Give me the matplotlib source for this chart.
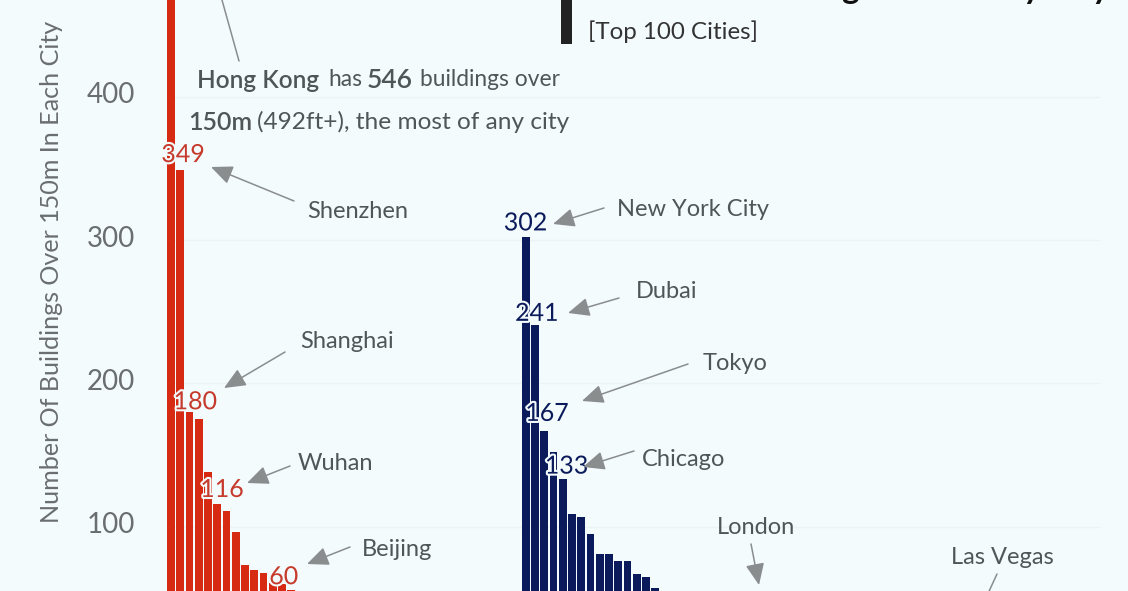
import numpy as np
import matplotlib
matplotlib.use('Agg')
import matplotlib.pyplot as plt
import matplotlib.patheffects as pe
from matplotlib.patches import Rectangle

plt.rcParams['font.family'] = ['Lato', 'DejaVu Sans']

# only the bars tall enough to show in this crop
china_counts = [546, 349, 180, 175, 138, 116, 111, 96, 73, 70, 68, 61, 60, 56]
other_counts = [302, 241, 167, 152, 133, 109, 107, 95, 81, 81, 76, 76, 67, 65, 57]
china_labelled = [1, 2, 5, 12]
other_labelled = [0, 1, 2, 4]
yticks = [100, 200, 300, 400]

RED = '#d62a12'
NAVY = '#0b1a5a'
BG = '#f3fbfd'
GREY = '#505557'
ARROW = '#8a8d8e'

W, H = 1128, 591
fig = plt.figure(figsize=(W/100, H/100), dpi=100, facecolor=BG)
ax = fig.add_axes([0, 0, 1, 1], facecolor=BG)


def fx(px):
    return px/W


def fy(py):
    return 1 - py/H


def put(px, py, s, **kw):
    kw.setdefault('color', GREY)
    kw.setdefault('fontsize', 17)
    kw.setdefault('ha', 'center')
    kw.setdefault('va', 'center')
    return fig.text(fx(px), fy(py), s, **kw)


def arrow(tail, head, style='-|>,head_length=0.55,head_width=0.24'):
    props = dict(arrowstyle=style, color=ARROW, lw=1.1, shrinkA=0, shrinkB=0, mutation_scale=24)
    ax.annotate('', xy=(fx(head[0]), fy(head[1])), xycoords='figure fraction',
                xytext=(fx(tail[0]), fy(tail[1])), textcoords='figure fraction',
                arrowprops=props)


pitch = 9.25
x_china = np.arange(len(china_counts))
x_other = np.arange(len(other_counts)) + 38.35

ax.set_xlim(-171/pitch, (W - 171)/pitch)
ax.set_ylim((670 - H)/1.433, 670/1.433)

ax.hlines(yticks, (167 - 171)/pitch, (1100 - 171)/pitch, color='#ebf3f5', lw=1, zorder=0)
ax.bar(x_china, china_counts, width=0.83, color=RED, zorder=2)
ax.bar(x_other, other_counts, width=0.83, color=NAVY, zorder=2)

# label nudges in pixels, right and up from the top of the bar
china_nudge = [(2.8, 15.3), (5.8, 10.3), (4.8, 14.3), (1.8, 7.3)]
other_nudge = [(-0.2, 14.3), (1.8, 11.3), (2.8, 17.3), (3.8, 13.3)]

for idx, nudge, col, xs, vals in [(china_labelled, china_nudge, '#c63a2b', x_china, china_counts),
                                  (other_labelled, other_nudge, NAVY, x_other, other_counts)]:
    for k, (dx, dy) in zip(idx, nudge):
        ax.annotate(str(vals[k]), (xs[k], vals[k]), xytext=(dx*0.72, dy*0.72), textcoords='offset points',
                    ha='center', va='center', fontsize=18, color=col, zorder=3,
                    path_effects=[pe.withStroke(linewidth=3, foreground=BG)])

ax.set_xticks([])
ax.set_yticks([])
for s in ax.spines.values():
    s.set_visible(False)

for t in yticks:
    ax.text((135 - 171)/pitch, t + 1, str(t), ha='right', va='center', fontsize=20, color='#6b6e70')

put(52, 272, 'Number Of Buildings Over 150m In Each City', rotation=90, fontsize=18.1, color='#6b6e70')

# title runs off the top of the crop, only the descenders show
put(1110, -1, 'Number Of Tall Buildings In Country City', ha='right', va='baseline',
    fontsize=24, fontweight='bold', color='#111111')
fig.add_artist(Rectangle((fx(561), fy(44)), 11/W, 44/H, transform=fig.transFigure,
                         facecolor='#222222', edgecolor='none'))
put(588, 32, '[Top 100 Cities]', ha='left', fontsize=17.4, color='#333333')

put(197, 80, 'Hong Kong', ha='left', fontweight='semibold', fontsize=17.6)
put(328, 80, 'has', ha='left', fontsize=16.4)
put(367, 80, '546', ha='left', fontweight='semibold', fontsize=19)
put(420, 80, 'buildings over', ha='left', fontsize=16.4)
put(188, 122, '150m', ha='left', fontweight='semibold', fontsize=18)
put(257, 122, '(492ft+), the most of any city', ha='left', fontsize=17.6)

put(358, 212, 'Shenzhen')
put(347, 341, 'Shanghai')
put(335, 464, 'Wuhan')
put(397, 549, 'Beijing')
put(693, 209, 'New York City')
put(667, 292, 'Dubai')
put(735, 363, 'Tokyo')
put(684, 459, 'Chicago')
put(756, 527, 'London')
put(1002, 557, 'Las Vegas')

arrow((222, 0), (239, 61), style='-')
arrow((294, 201), (211, 167))
arrow((285, 352), (224, 388))
arrow((290, 466), (247, 483))
arrow((350, 547), (307, 564))
arrow((604, 208), (553, 224))
arrow((619, 298), (568, 313))
arrow((688, 364), (582, 401))
arrow((634, 451), (583, 467))
arrow((751, 544), (759, 585))
arrow((997, 574), (985, 600), style='-')

fig.savefig('out.png', dpi=100, facecolor=BG)
